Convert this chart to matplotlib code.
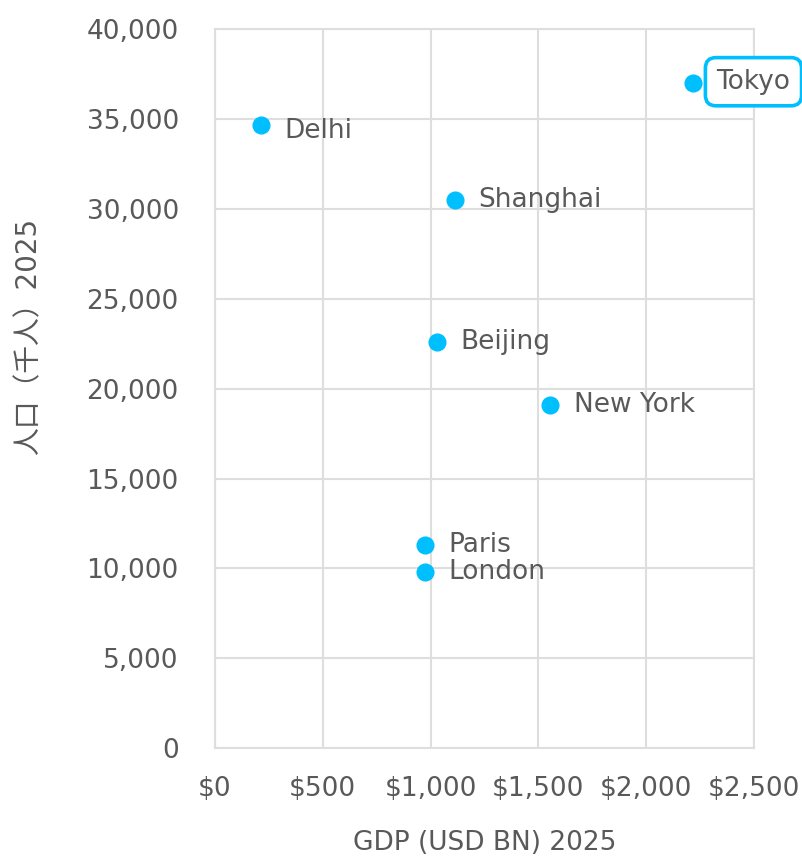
import matplotlib.pyplot as plt
from matplotlib.ticker import FuncFormatter

plt.rcParams['font.family'] = ['DejaVu Sans', 'Noto Sans CJK JP']

cities = ["Tokyo", "Delhi", "Shanghai", "Beijing", "New York", "Paris", "London"]
gdp = [2217, 213, 1113, 1030, 1554, 974, 974]
population = [37000, 34650, 30480, 22580, 19080, 11290, 9790]

point_color = "#00BFFF"
text_color = "#595959"
grid_color = "#DEDEDE"
fs = 19

fig = plt.figure(figsize=(8.02, 8.58), dpi=100)
ax = fig.add_axes([0.268, 0.128, 0.672, 0.838])

ax.scatter(gdp, population, s=170, color=point_color, zorder=3, linewidths=0)

for name, x, y in zip(cities, gdp, population):
    dy = -4 if name == "Delhi" else 0
    if name == "Tokyo":
        ax.annotate(name, (x, y), xytext=(17, 1), textcoords="offset points",
                    va="center", ha="left", fontsize=fs, color=text_color,
                    annotation_clip=False,
                    bbox=dict(boxstyle="round,pad=0.42,rounding_size=0.4",
                              fc="white", ec=point_color, lw=2.6))
    else:
        ax.annotate(name, (x, y), xytext=(17, dy), textcoords="offset points",
                    va="center", ha="left", fontsize=fs, color=text_color)

ax.set_xlim(0, 2500)
ax.set_ylim(0, 40000)
ax.set_xticks(range(0, 2501, 500))
ax.set_yticks(range(0, 40001, 5000))
ax.xaxis.set_major_formatter(FuncFormatter(lambda v, p: "${:,.0f}".format(v)))
ax.yaxis.set_major_formatter(FuncFormatter(lambda v, p: "{:,.0f}".format(v)))

ax.grid(True, color=grid_color, lw=1.5)
ax.set_axisbelow(True)
for sp in ax.spines.values():
    sp.set_color(grid_color)
    sp.set_linewidth(1.5)

ax.tick_params(axis="both", length=0, labelsize=fs, labelcolor=text_color)
ax.tick_params(axis="x", pad=20)
ax.tick_params(axis="y", pad=26)

ax.set_xlabel("GDP (USD BN) 2025", fontsize=fs, color=text_color)
ax.xaxis.set_label_coords(0.5, -0.114)
ax.set_ylabel("人口（千人）2025", fontsize=20, color=text_color)
ax.yaxis.set_label_coords(-0.321, 0.573)

fig.savefig("out.png", dpi=100)
